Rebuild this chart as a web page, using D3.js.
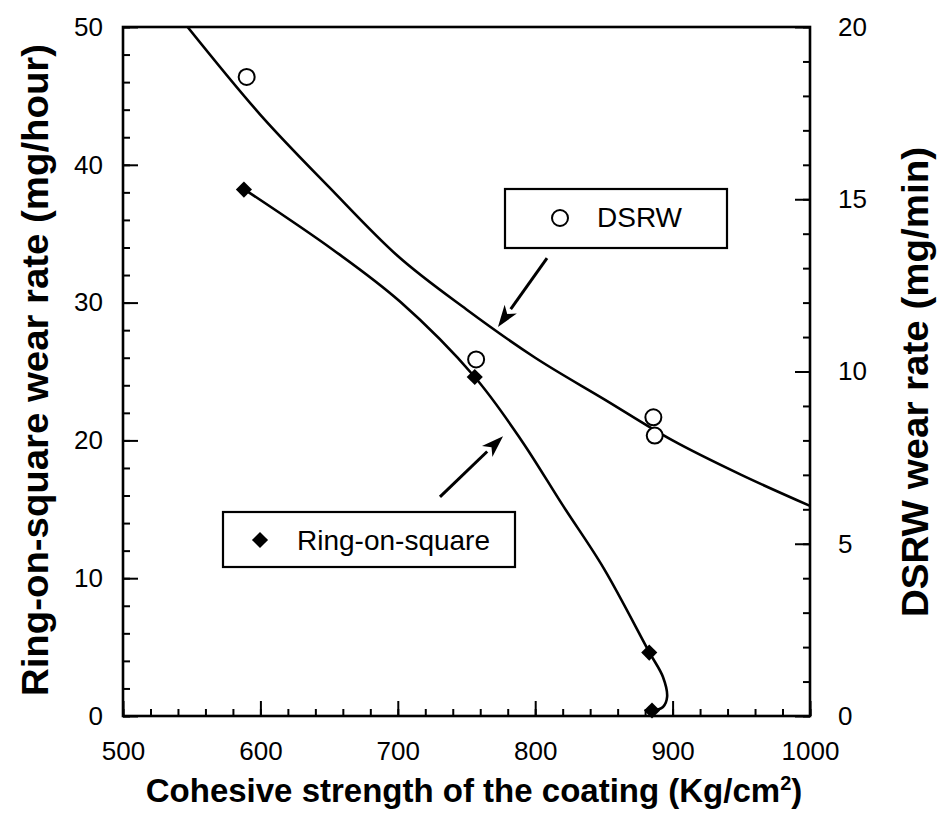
<!DOCTYPE html>
<html><head><meta charset="utf-8">
<script src="https://cdn.jsdelivr.net/npm/d3@7/dist/d3.min.js"></script>
<style>
html,body{margin:0;padding:0;background:#fff;}
text{font-family:"Liberation Sans",Arial,Helvetica,sans-serif;fill:#000;}
</style></head>
<body>
<svg id="chart" width="938" height="827"></svg>
<script>
// ---- data ----
const xTicks = [500, 600, 700, 800, 900, 1000];
const yLeftTicks = [0, 10, 20, 30, 40, 50];
const yRightTicks = [0, 5, 10, 15, 20];

// DSRW measured points (right axis, mg/min)
const dsrwX = [590, 757, 886, 887];
const dsrwY = [18.55, 10.35, 8.67, 8.14];
// Ring-on-square measured points (left axis, mg/hour)
const ringX = [588, 756, 883, 885];
const ringY = [38.2, 24.6, 4.6, 0.4];

// fitted curves
const dsrwCurveX = [547, 600, 650, 700, 750, 800, 850, 900, 950, 1000];
const dsrwCurveY = [20.0, 17.45, 15.35, 13.35, 11.8, 10.4, 9.2, 8.0, 7.0, 6.1];
const ringCurveX = [588, 653, 702, 756, 790, 820, 850, 883, 893, 896, 893, 885];
const ringCurveY = [38.24, 33.82, 30.04, 24.6, 20.0, 15.3, 10.7, 4.64, 2.83, 1.38, 0.65, 0.36];

// annotation arrows [x0, y0, x1, y1] in data units
const dsrwArrow = [808.6, 13.29, 772.9, 11.29];   // right axis units
const ringArrow = [730.7, 15.9, 776.6, 20.3];     // left axis units

// ---- chart ----
const svg = d3.select("#chart");
const L = 123, R = 810, T = 27, B = 716;
const x = d3.scaleLinear().domain([500, 1000]).range([L, R]);
const yL = d3.scaleLinear().domain([0, 50]).range([B, T]);
const yR = d3.scaleLinear().domain([0, 20]).range([B, T]);

const tickFont = 26;

// minor ticks
const gxm = svg.append("g").attr("transform", `translate(0,${B})`)
  .call(d3.axisBottom(x).tickValues(d3.range(500, 1001, 20)).tickSize(-7).tickFormat(""));
const gylm = svg.append("g").attr("transform", `translate(${L},0)`)
  .call(d3.axisLeft(yL).tickValues(d3.range(0, 51, 2)).tickSize(-7).tickFormat(""));
const gyrm = svg.append("g").attr("transform", `translate(${R},0)`)
  .call(d3.axisRight(yR).tickValues(d3.range(0, 21, 1)).tickSize(-7).tickFormat(""));

// major ticks + labels
const gx = svg.append("g").attr("transform", `translate(0,${B})`)
  .call(d3.axisBottom(x).tickValues(xTicks).tickSize(-15).tickPadding(26).tickFormat(d3.format("d")));
const gyl = svg.append("g").attr("transform", `translate(${L},0)`)
  .call(d3.axisLeft(yL).tickValues(yLeftTicks).tickSize(-15).tickPadding(20).tickFormat(d3.format("d")));
const gyr = svg.append("g").attr("transform", `translate(${R},0)`)
  .call(d3.axisRight(yR).tickValues(yRightTicks).tickSize(-15).tickPadding(28).tickFormat(d3.format("d")));

[gxm, gylm, gyrm, gx, gyl, gyr].forEach(g => {
  g.select(".domain").remove();
  g.selectAll(".tick line").attr("stroke", "#000").attr("stroke-width", 2);
  g.selectAll(".tick text").attr("font-size", tickFont).attr("font-family", "Liberation Sans, Arial, sans-serif").attr("fill", "#000");
});

// frame
svg.append("rect").attr("x", L).attr("y", T).attr("width", R - L).attr("height", B - T)
  .attr("fill", "none").attr("stroke", "#000").attr("stroke-width", 2.6);

// curves
svg.append("clipPath").attr("id", "clip").append("rect")
  .attr("x", L).attr("y", T).attr("width", R - L).attr("height", B - T + 2);
const lineMono = d3.line().curve(d3.curveMonotoneX);
svg.append("path")
  .attr("d", lineMono(dsrwCurveX.map((d, i) => [x(d), yR(dsrwCurveY[i])])))
  .attr("fill", "none").attr("stroke", "#000").attr("stroke-width", 2.6).attr("clip-path", "url(#clip)");
const lineCR = d3.line().curve(d3.curveCatmullRom.alpha(0.5));
svg.append("path")
  .attr("d", lineCR(ringCurveX.map((d, i) => [x(d), yL(ringCurveY[i])])))
  .attr("fill", "none").attr("stroke", "#000").attr("stroke-width", 2.6);

// markers
const diamond = d3.symbol().type(d3.symbolSquare).size(130);
svg.append("g").selectAll("path").data(ringX).join("path")
  .attr("d", diamond)
  .attr("transform", (d, i) => `translate(${x(d)},${yL(ringY[i])}) rotate(45)`)
  .attr("fill", "#000");
svg.append("g").selectAll("circle").data(dsrwX).join("circle")
  .attr("cx", d => x(d)).attr("cy", (d, i) => yR(dsrwY[i])).attr("r", 8)
  .attr("fill", "#fff").attr("stroke", "#000").attr("stroke-width", 2);

// arrows
function arrow(x0, y0, x1, y1) {
  const ang = Math.atan2(y1 - y0, x1 - x0);
  const len = 22, w = 7.5;
  const bx = x1 - len * Math.cos(ang), by = y1 - len * Math.sin(ang);
  svg.append("line").attr("x1", x0).attr("y1", y0).attr("x2", bx).attr("y2", by)
    .attr("stroke", "#000").attr("stroke-width", 3);
  const px = -Math.sin(ang) * w, py = Math.cos(ang) * w;
  svg.append("path")
    .attr("d", `M${x1},${y1}L${bx + px},${by + py}L${bx + 6*Math.cos(ang)},${by + 6*Math.sin(ang)}L${bx - px},${by - py}Z`)
    .attr("fill", "#000");
}
arrow(x(dsrwArrow[0]), yR(dsrwArrow[1]), x(dsrwArrow[2]), yR(dsrwArrow[3]));
arrow(x(ringArrow[0]), yL(ringArrow[1]), x(ringArrow[2]), yL(ringArrow[3]));

// legends
const lg1 = svg.append("g");
lg1.append("rect").attr("x", 505).attr("y", 189).attr("width", 222).attr("height", 59)
  .attr("fill", "#fff").attr("stroke", "#000").attr("stroke-width", 2.2);
lg1.append("circle").attr("cx", 560).attr("cy", 218).attr("r", 8)
  .attr("fill", "#fff").attr("stroke", "#000").attr("stroke-width", 2);
lg1.append("text").attr("x", 597).attr("y", 227).attr("font-size", 28).text("DSRW");

const lg2 = svg.append("g");
lg2.append("rect").attr("x", 223).attr("y", 512).attr("width", 292).attr("height", 55)
  .attr("fill", "#fff").attr("stroke", "#000").attr("stroke-width", 2.2);
lg2.append("path").attr("d", diamond).attr("transform", "translate(260,540) rotate(45)").attr("fill", "#000");
lg2.append("text").attr("x", 297).attr("y", 550).attr("font-size", 28).text("Ring-on-square");

// axis titles
const xt = svg.append("text").attr("x", 474).attr("y", 802).attr("text-anchor", "middle")
  .attr("font-size", 33).attr("font-weight", "bold");
xt.append("tspan").text("Cohesive strength of the coating (Kg/cm");
xt.append("tspan").attr("font-size", 20).attr("dy", -12).text("2");
xt.append("tspan").attr("dy", 12).text(")");

svg.append("text").attr("transform", "translate(48,370) rotate(-90)").attr("text-anchor", "middle")
  .attr("font-size", 36).attr("font-weight", "bold").attr("textLength", 652).attr("lengthAdjust", "spacingAndGlyphs")
  .text("Ring-on-square wear rate (mg/hour)");
svg.append("text").attr("transform", "translate(928,382) rotate(-90)").attr("text-anchor", "middle")
  .attr("font-size", 36).attr("font-weight", "bold").attr("textLength", 470).attr("lengthAdjust", "spacingAndGlyphs")
  .text("DSRW wear rate (mg/min)");
</script>
</body></html>
